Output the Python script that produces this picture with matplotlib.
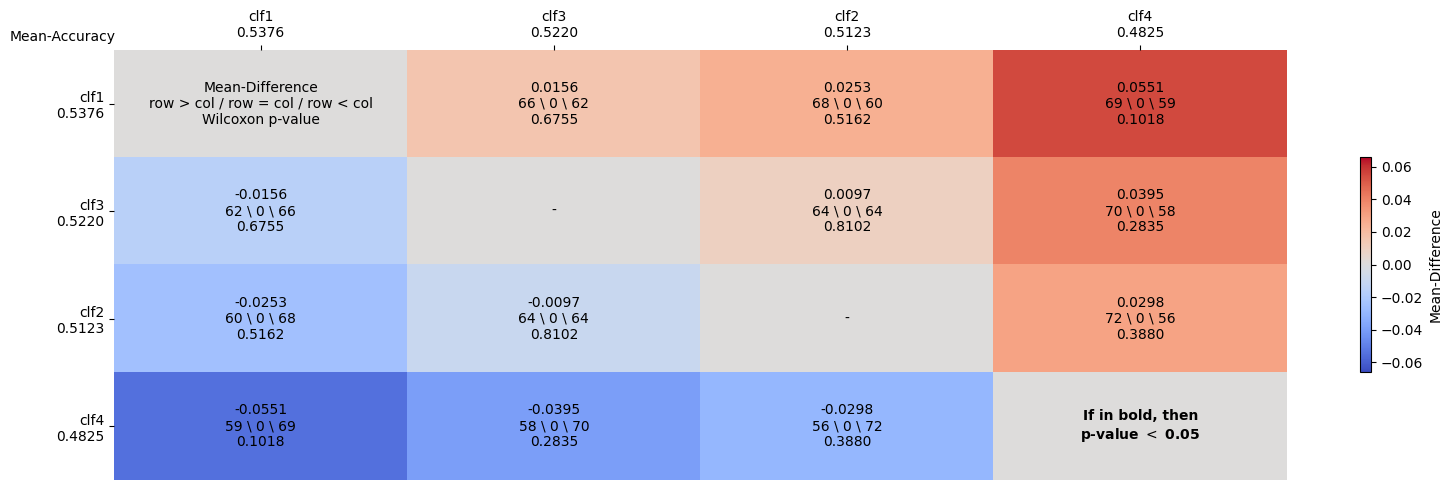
import numpy as np
import matplotlib
matplotlib.use("Agg")
import matplotlib.pyplot as plt

# classifiers, ordered by mean accuracy
names = ["clf1", "clf3", "clf2", "clf4"]
mean_acc = [0.5376, 0.5220, 0.5123, 0.4825]

# mean difference row - col (upper triangle), lower is the negative
upper_diff = [[0.0, 0.0156, 0.0253, 0.0551],
              [0.0, 0.0, 0.0097, 0.0395],
              [0.0, 0.0, 0.0, 0.0298],
              [0.0, 0.0, 0.0, 0.0]]
# wins / ties / losses of row vs col (upper triangle)
wins = [[0, 66, 68, 69],
        [0, 0, 64, 70],
        [0, 0, 0, 72],
        [0, 0, 0, 0]]
losses = [[0, 62, 60, 59],
          [0, 0, 64, 58],
          [0, 0, 0, 56],
          [0, 0, 0, 0]]
ties = [[0, 0, 0, 0],
        [0, 0, 0, 0],
        [0, 0, 0, 0],
        [0, 0, 0, 0]]
pvals = [[1.0, 0.6755, 0.5162, 0.1018],
         [0.0, 1.0, 0.8102, 0.2835],
         [0.0, 0.0, 1.0, 0.3880],
         [0.0, 0.0, 0.0, 1.0]]

n = len(names)
diff = np.array(upper_diff)
diff = diff - diff.T
W = np.array(wins)
L = np.array(losses)
W, L = W + L.T, L + W.T
T = np.array(ties)
T = T + T.T
P = np.array(pvals)
P = np.triu(P, 1) + np.triu(P, 1).T

vmax = np.abs(diff).max() * 1.2

fig = plt.figure(figsize=(14.52, 4.9), dpi=100)
ax = fig.add_axes([114 / 1452, 10 / 490, (1287 - 114) / 1452, 430 / 490])
im = ax.imshow(diff, cmap="coolwarm", vmin=-vmax, vmax=vmax, aspect="auto")

for i in range(n):
    for j in range(n):
        if i == j:
            if i == 0:
                txt = "Mean-Difference\nrow > col / row = col / row < col\nWilcoxon p-value"
                ax.text(j, i, txt, ha="center", va="center", fontsize=10)
            elif i == n - 1:
                ax.text(j, i, "If in bold, then\np-value $<$ 0.05", ha="center",
                        va="center", fontsize=10, fontweight="bold")
            else:
                ax.text(j, i, "-", ha="center", va="center", fontsize=10)
            continue
        txt = "%.4f\n%d \\ %d \\ %d\n%.4f" % (diff[i, j], W[i, j], T[i, j], L[i, j], P[i, j])
        ax.text(j, i, txt, ha="center", va="center", fontsize=10,
                fontweight="bold" if P[i, j] < 0.05 else "normal")

labels = ["%s\n%.4f" % (a, b) for a, b in zip(names, mean_acc)]
ax.set_xticks(range(n))
ax.set_xticklabels(labels, fontsize=10)
ax.set_yticks(range(n))
ax.set_yticklabels(labels, fontsize=10)
ax.xaxis.tick_top()
for s in ax.spines.values():
    s.set_visible(False)
ax.text(2 / 1173, 1.0 + 13 / 430, "Mean-Accuracy", transform=ax.transAxes,
        ha="right", va="center", fontsize=10)

cax = fig.add_axes([1360 / 1452, (490 - 372) / 490, 11 / 1452, 215 / 490])
cb = fig.colorbar(im, cax=cax)
cb.set_label("Mean-Difference", fontsize=10)
cb.set_ticks([-0.06, -0.04, -0.02, 0.0, 0.02, 0.04, 0.06])

fig.savefig("out.png", dpi=100)
